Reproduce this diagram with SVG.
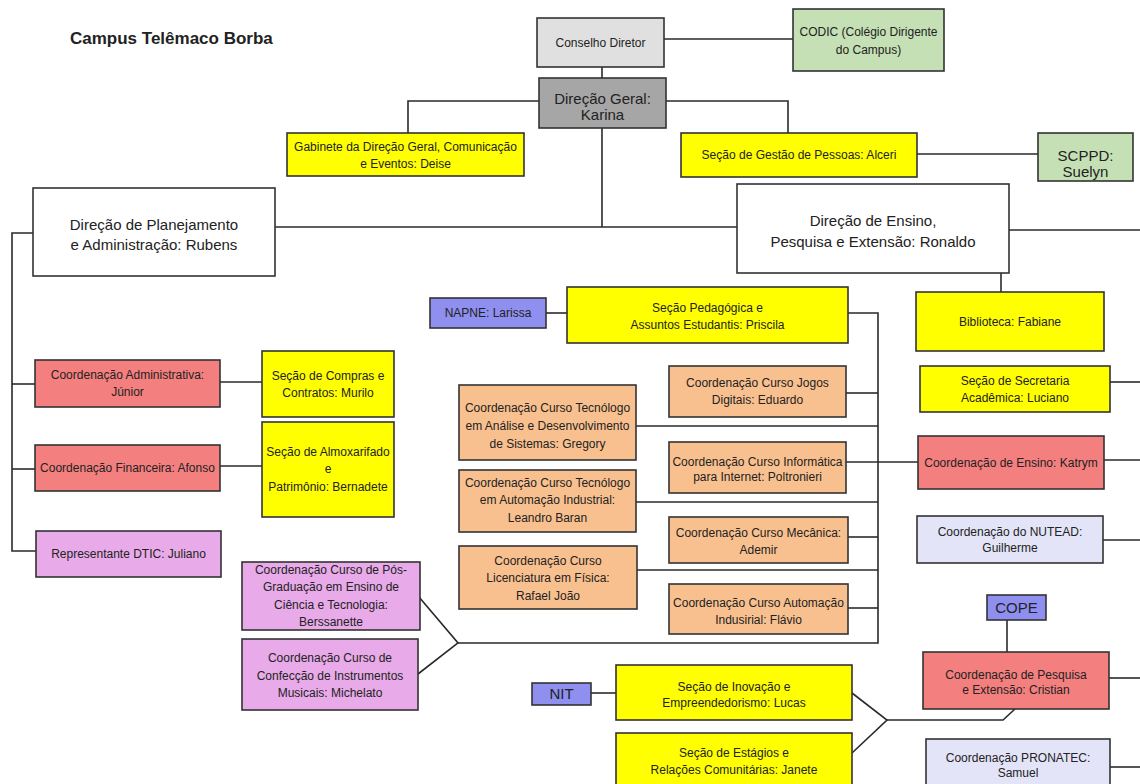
<svg xmlns="http://www.w3.org/2000/svg" width="1140" height="784" viewBox="0 0 1140 784">
<style>
text{font-family:"Liberation Sans",Arial,sans-serif;fill:#222;text-anchor:middle;font-size:12px}
.big{font-size:15px}
.title{font-size:17px;font-weight:bold;text-anchor:start}
g rect{stroke:#333;stroke-width:1.6}
.gray{fill:#e0e0e0}.dgray{fill:#a6a6a6}.green{fill:#c5e0b4}.yel{fill:#ffff00}.white{fill:#fff}
.red{fill:#f47f7f}.peach{fill:#f9c08f}.pink{fill:#e8aae8}.blue{fill:#8f8ff0}.lav{fill:#e4e4f8}
#connectors path{fill:none;stroke:#2a2a2a;stroke-width:1.6}
</style>
<rect width="1140" height="784" style="fill:#fff;stroke:none"/>
<text class="title" x="70" y="44">Campus Telêmaco Borba</text>
<g id="connectors">
<path d="M602 67V78"/>
<path d="M664 39H793"/>
<path d="M539 101H408V133"/>
<path d="M666 101H788V133"/>
<path d="M602 128V227"/>
<path d="M275 227H737"/>
<path d="M917 154H1038"/>
<path d="M1009 230H1140"/>
<path d="M1001 273V292"/>
<path d="M33 233H12V551H36"/>
<path d="M12 384H35"/>
<path d="M12 469H35"/>
<path d="M220 382H262"/>
<path d="M220 466H262"/>
<path d="M546 313H567"/>
<path d="M848 313H878V643H458"/>
<path d="M846 393H878"/>
<path d="M636 426H878"/>
<path d="M846 462H918"/>
<path d="M636 502H878"/>
<path d="M848 537H878"/>
<path d="M637 570H878"/>
<path d="M848 608H878"/>
<path d="M419 597L458 643L418 674"/>
<path d="M1110 382H1140"/>
<path d="M1104 460H1140"/>
<path d="M1103 540H1140"/>
<path d="M1109 678H1140"/>
<path d="M1110 767H1140"/>
<path d="M1007 620V652"/>
<path d="M591 693H616"/>
<path d="M852 693L887 720L852 753"/>
<path d="M887 720H1003L1015 709"/>
</g>
<g id="conselho"><rect class="gray" x="537" y="18" width="127" height="49"/><text x="600.5" y="47">Conselho Diretor</text></g>
<g id="codic"><rect class="green" x="793" y="9" width="151" height="62"/><text x="868.5" y="36">CODIC (Colégio Dirigente</text><text x="868.5" y="54">do Campus)</text></g>
<g id="direcao-geral"><rect class="dgray" x="539" y="78" width="127" height="50"/><text class="big" x="602.5" y="104">Direção Geral:</text><text class="big" x="602.5" y="120">Karina</text></g>
<g id="gabinete"><rect class="yel" x="287" y="133" width="237" height="43"/><text x="405.5" y="151">Gabinete da Direção Geral, Comunicação</text><text x="405.5" y="168">e Eventos: Deise</text></g>
<g id="gestao"><rect class="yel" x="681" y="133" width="236" height="44"/><text x="799" y="159">Seção de Gestão de Pessoas: Alceri</text></g>
<g id="scppd"><rect class="green" x="1038" y="133" width="95" height="48"/><text class="big" x="1085.5" y="161">SCPPD:</text><text class="big" x="1085.5" y="177">Suelyn</text></g>
<g id="planejamento"><rect class="white" x="33" y="188" width="242" height="88"/><text class="big" x="154" y="230">Direção de Planejamento</text><text class="big" x="154" y="250">e Administração: Rubens</text></g>
<g id="ensino"><rect class="white" x="737" y="184" width="272" height="89"/><text class="big" x="873" y="226">Direção de Ensino,</text><text class="big" x="873" y="247">Pesquisa e Extensão: Ronaldo</text></g>
<g id="biblioteca"><rect class="yel" x="916" y="292" width="188" height="59"/><text x="1010" y="326">Biblioteca: Fabiane</text></g>
<g id="secretaria"><rect class="yel" x="920" y="366" width="190" height="46"/><text x="1015" y="385">Seção de Secretaria</text><text x="1015" y="402">Acadêmica: Luciano</text></g>
<g id="coord-ensino"><rect class="red" x="918" y="436" width="186" height="53"/><text x="1011" y="467">Coordenação de Ensino: Katrym</text></g>
<g id="nutead"><rect class="lav" x="917" y="516" width="186" height="47"/><text x="1010" y="536">Coordenação do NUTEAD:</text><text x="1010" y="552">Guilherme</text></g>
<g id="cope"><rect class="blue" x="987" y="595" width="59" height="25"/><text class="big" x="1016.5" y="613">COPE</text></g>
<g id="pesquisa"><rect class="red" x="923" y="652" width="186" height="57"/><text x="1016" y="679">Coordenação de Pesquisa</text><text x="1016" y="694">e Extensão: Cristian</text></g>
<g id="pronatec"><rect class="lav" x="926" y="739" width="184" height="52"/><text x="1018" y="762">Coordenação PRONATEC:</text><text x="1018" y="777">Samuel</text></g>
<g id="napne"><rect class="blue" x="430" y="298" width="116" height="30"/><text x="488" y="317">NAPNE: Larissa</text></g>
<g id="pedagogica"><rect class="yel" x="567" y="287" width="281" height="56"/><text x="707.5" y="312">Seção Pedagógica e</text><text x="707.5" y="329">Assuntos Estudantis: Priscila</text></g>
<g id="jogos"><rect class="peach" x="669" y="366" width="177" height="51"/><text x="757.5" y="387">Coordenação Curso Jogos</text><text x="757.5" y="404">Digitais: Eduardo</text></g>
<g id="ads"><rect class="peach" x="459" y="385" width="177" height="75"/><text x="547.5" y="412">Coordenação Curso Tecnólogo</text><text x="547.5" y="430">em Análise e Desenvolvimento</text><text x="547.5" y="448">de Sistemas: Gregory</text></g>
<g id="informatica"><rect class="peach" x="669" y="442" width="177" height="51"/><text x="757.5" y="466">Coordenação Curso Informática</text><text x="757.5" y="481">para Internet: Poltronieri</text></g>
<g id="automacao-tec"><rect class="peach" x="459" y="470" width="177" height="62"/><text x="547.5" y="487">Coordenação Curso Tecnólogo</text><text x="547.5" y="504">em Automação Industrial:</text><text x="547.5" y="522">Leandro Baran</text></g>
<g id="mecanica"><rect class="peach" x="669" y="517" width="179" height="46"/><text x="758.5" y="537">Coordenação Curso Mecânica:</text><text x="758.5" y="554">Ademir</text></g>
<g id="fisica"><rect class="peach" x="459" y="546" width="178" height="63"/><text x="548" y="565">Coordenação Curso</text><text x="548" y="582">Licenciatura em Física:</text><text x="548" y="600">Rafael João</text></g>
<g id="automacao"><rect class="peach" x="669" y="584" width="179" height="50"/><text x="758.5" y="607">Coordenação Curso Automação</text><text x="758.5" y="624">Indusirial: Flávio</text></g>
<g id="pos"><rect class="pink" x="242" y="562" width="178" height="68"/><text x="331" y="574">Coordenação Curso de Pós-</text><text x="331" y="591">Graduação em Ensino de</text><text x="331" y="609">Ciência e Tecnologia:</text><text x="331" y="626">Berssanette</text></g>
<g id="confeccao"><rect class="pink" x="242" y="639" width="176" height="71"/><text x="330" y="662">Coordenação Curso de</text><text x="330" y="680">Confecção de Instrumentos</text><text x="330" y="697">Musicais: Michelato</text></g>
<g id="nit"><rect class="blue" x="532" y="683" width="59" height="22"/><text class="big" x="561.5" y="699">NIT</text></g>
<g id="inovacao"><rect class="yel" x="616" y="665" width="236" height="55"/><text x="734" y="691">Seção de Inovação e</text><text x="734" y="707">Empreendedorismo: Lucas</text></g>
<g id="estagios"><rect class="yel" x="616" y="733" width="236" height="56"/><text x="734" y="757">Seção de Estágios e</text><text x="734" y="774">Relações Comunitárias: Janete</text></g>
<g id="administrativa"><rect class="red" x="35" y="360" width="185" height="47"/><text x="127.5" y="379">Coordenação Administrativa:</text><text x="127.5" y="396">Júnior</text></g>
<g id="compras"><rect class="yel" x="262" y="351" width="132" height="66"/><text x="328" y="380">Seção de Compras e</text><text x="328" y="397">Contratos: Murilo</text></g>
<g id="financeira"><rect class="red" x="35" y="445" width="185" height="46"/><text x="127.5" y="472">Coordenação Financeira: Afonso</text></g>
<g id="almoxarifado"><rect class="yel" x="262" y="422" width="132" height="95"/><text x="328" y="456">Seção de Almoxarifado</text><text x="328" y="473">e</text><text x="328" y="491">Patrimônio: Bernadete</text></g>
<g id="dtic"><rect class="pink" x="36" y="531" width="185" height="46"/><text x="128.5" y="558">Representante DTIC: Juliano</text></g>
</svg>
